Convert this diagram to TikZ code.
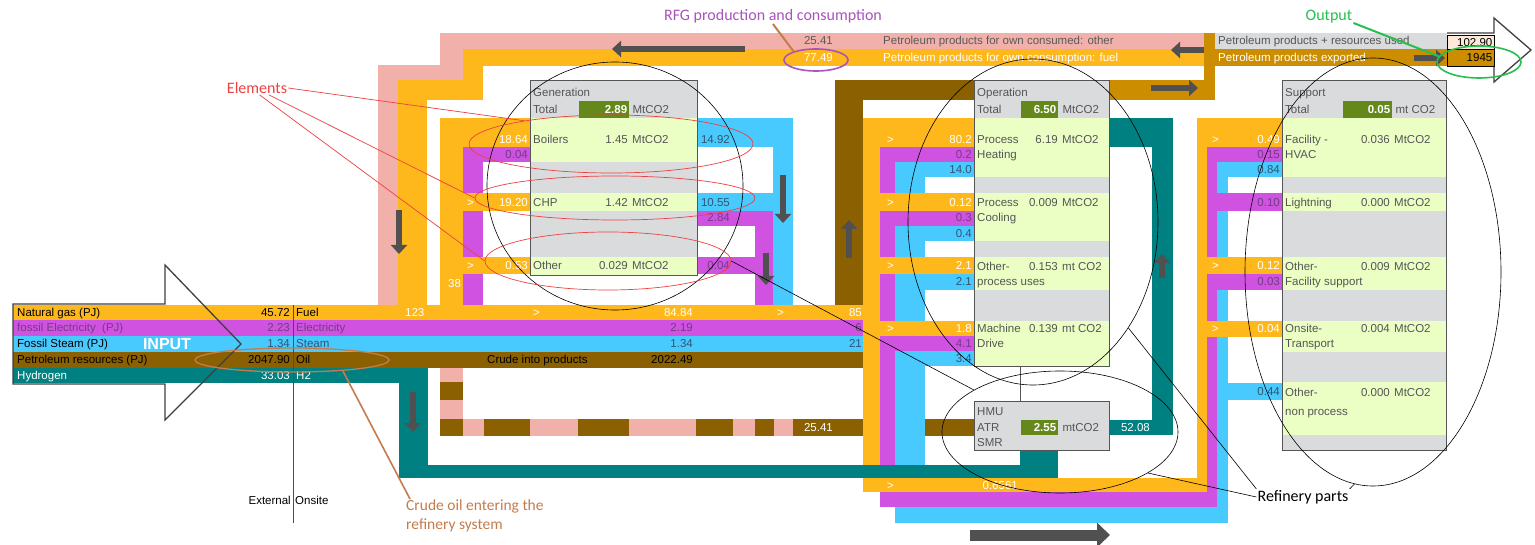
\documentclass[tikz,border=0pt]{standalone}
\usepackage{fontspec}
\setmainfont{Liberation Sans}
\newfontfamily\annfont{Carlito}
\usepackage{tikz}
\usetikzlibrary{positioning, shapes.geometric, arrows.meta}

\definecolor{fuelc}{RGB}{255,184,28}
\definecolor{elecc}{RGB}{208,82,224}
\definecolor{steamc}{RGB}{72,202,255}
\definecolor{oilc}{RGB}{138,96,0}
\definecolor{htwoc}{RGB}{0,128,128}
\definecolor{rfgc}{RGB}{242,176,170}
\definecolor{expc}{RGB}{204,142,0}
\definecolor{boxgray}{RGB}{218,219,221}
\definecolor{rowgreen}{RGB}{235,255,196}
\definecolor{totgreen}{RGB}{100,136,26}
\definecolor{arrowgray}{RGB}{80,80,80}
\definecolor{boxtext}{RGB}{85,85,85}
\definecolor{electext}{RGB}{112,62,132}
\definecolor{steamtext}{RGB}{46,86,116}
\definecolor{pinktext}{RGB}{90,90,90}
\definecolor{elemred}{RGB}{238,64,64}
\definecolor{rfgpurple}{RGB}{168,84,188}
\definecolor{outgreen}{RGB}{40,190,80}
\definecolor{crudebrown}{RGB}{196,124,76}
\definecolor{peach}{RGB}{253,233,217}

\newcommand\flowfont{\fontsize{11.5}{13}\selectfont}

\begin{document}
\begin{tikzpicture}[x=1pt,y=-1pt]
    \tikzstyle{lbl} = [inner sep=0pt, text height=8.5pt, text depth=1pt, font=\flowfont]
    \tikzstyle{keyl} = [lbl, anchor=west]
    \tikzstyle{numr} = [lbl, anchor=east]
    \tikzstyle{panel} = [fill=boxgray, inner sep=0pt, outer sep=0pt, anchor=north west]
    \tikzstyle{totbox} = [fill=totgreen, text=white, font=\flowfont\bfseries, inner xsep=2pt, inner ysep=0pt, text height=8.5pt, text depth=1pt, minimum height=17pt, align=right, anchor=north west]
    \tikzstyle{cellbox} = [draw=black, line width=0.6pt, inner xsep=2pt, inner ysep=0pt, align=right, text height=8.5pt, text depth=1pt, font=\flowfont, anchor=north west]
    \tikzstyle{outline} = [draw=black!75, line width=1.3pt, line join=miter]
    \tikzstyle{flowarr} = [draw=arrowgray, line width=6pt, -{Triangle[length=9pt,width=16pt]}]
    \tikzstyle{bigarr} = [draw=arrowgray, line width=11pt, -{Triangle[length=13pt,width=24pt]}]
    \tikzstyle{ring} = [draw=black, ellipse, inner sep=0pt, line width=0.6pt]
    \tikzstyle{redring} = [draw=elemred, ellipse, inner sep=0pt, line width=0.7pt]
    \tikzstyle{annlbl} = [font=\annfont\fontsize{16}{19}\selectfont, inner sep=1pt]

    \useasboundingbox (0,0) rectangle (1535,545);
    \fill[white] (0,0) rectangle (1535,545);

    % RFG and fuel loops at the top
    \fill[rfgc] (378,65) rectangle (398,305);
    \fill[rfgc] (378,65) rectangle (463,80);
    \fill[rfgc] (440,33) rectangle (463,80);
    \fill[rfgc] (440,33) rectangle (1204,49);
    \fill[fuelc] (398,80) rectangle (427,305);
    \fill[fuelc] (398,80) rectangle (483,100);
    \fill[fuelc] (463,49) rectangle (483,100);
    \fill[fuelc] (463,49) rectangle (1204,66);
    % exported products
    \fill[expc] (1109,80) rectangle (1215,100);
    \fill[expc] (1204,33) rectangle (1215,100);
    \fill[expc] (1215,49) rectangle (1447,66);
    \fill[boxgray] (1215,33) rectangle (1447,49);
    % crude loop
    \fill[oilc] (835,80) rectangle (863,368);
    \fill[oilc] (835,80) rectangle (974,100);

    % generation feeds
    \fill[fuelc] (440,118) rectangle (463,305);
    \fill[elecc] (463,147) rectangle (483,320);
    \fill[fuelc] (440,118) rectangle (530,147);
    \fill[elecc] (463,147) rectangle (530,162);
    \fill[fuelc] (440,193) rectangle (530,211);
    \fill[fuelc] (440,257) rectangle (530,274);
    \fill[steamc] (773,118) rectangle (793,336);
    \fill[elecc] (755,211) rectangle (773,320);
    \fill[steamc] (697,118) rectangle (793,147);
    \fill[steamc] (697,193) rectangle (793,211);
    \fill[elecc] (697,211) rectangle (773,226);
    \fill[elecc] (697,257) rectangle (773,274);

    % RFG back line
    \foreach \ya/\yb/\c in {368/382/rfgc, 382/400/oilc, 400/419/rfgc}
        \fill[\c] (440,\ya) rectangle (463,\yb);
    \foreach \xa/\xb/\c in {440/463/oilc, 463/484/rfgc, 484/530/oilc, 530/578/rfgc, 578/629/oilc, 629/696/rfgc, 696/733/oilc, 733/755/rfgc, 755/774/oilc, 774/793/rfgc, 793/974/oilc}
        \fill[\c] (\xa,419) rectangle (\xb,436);

    % operation feeds
    \fill[fuelc] (863,118) rectangle (880,492);
    \fill[elecc] (880,147) rectangle (895,507);
    \fill[steamc] (895,162) rectangle (925,523);
    \foreach \ya/\yb in {118/147, 193/211, 257/274, 321/336}
        \fill[fuelc] (863,\ya) rectangle (974,\yb);
    \foreach \ya/\yb in {147/162, 211/226, 336/351}
        \fill[elecc] (880,\ya) rectangle (974,\yb);
    \foreach \ya/\yb in {162/177, 226/241, 274/290, 351/366}
        \fill[steamc] (895,\ya) rectangle (974,\yb);
    \fill[fuelc] (863,478) rectangle (1207,492);
    \fill[elecc] (880,492) rectangle (1217,507);
    \fill[steamc] (895,507) rectangle (1228,523);

    % support feeds
    \fill[fuelc] (1197,118) rectangle (1207,492);
    \fill[elecc] (1207,147) rectangle (1217,507);
    \fill[steamc] (1217,162) rectangle (1228,523);
    \foreach \ya/\yb in {118/147, 257/274, 321/337}
        \fill[fuelc] (1197,\ya) rectangle (1282,\yb);
    \foreach \ya/\yb in {147/162, 193/211, 274/290}
        \fill[elecc] (1207,\ya) rectangle (1282,\yb);
    \foreach \ya/\yb in {162/177, 383/400}
        \fill[steamc] (1217,\ya) rectangle (1282,\yb);

    % hydrogen
    \fill[htwoc] (399,368) rectangle (428,478);
    \fill[htwoc] (399,465) rectangle (1058,478);
    \fill[htwoc] (1020,450) rectangle (1058,478);
    \fill[htwoc] (1109,420) rectangle (1173,435);
    \fill[htwoc] (1152,118) rectangle (1173,435);
    \fill[htwoc] (1109,118) rectangle (1173,147);

    % input rows
    \fill[fuelc] (13,305) rectangle (863,320);
    \fill[elecc] (13,320) rectangle (863,336);
    \fill[steamc] (13,336) rectangle (863,352);
    \fill[oilc] (13,352) rectangle (863,368);
    \fill[htwoc] (13,368) rectangle (428,383);

    % panels
    \node[panel, minimum width=167pt, minimum height=195pt] (gen) at (530,80) {};
    \node[panel, minimum width=135pt, minimum height=286pt] (oper) at (974,80) {};
    \node[panel, minimum width=164pt, minimum height=370pt] (supp) at (1282,80) {};
    \node[panel, minimum width=135pt, minimum height=49pt] (hmu) at (974,401) {};
    \foreach \ya/\yb in {118/162, 193/211, 257/275}
        \fill[rowgreen] (530,\ya) rectangle (697,\yb);
    \foreach \ya/\yb in {118/177, 193/241, 257/290, 321/366}
        \fill[rowgreen] (974,\ya) rectangle (1109,\yb);
    \foreach \ya/\yb in {118/177, 193/211, 257/290, 321/352, 382/435}
        \fill[rowgreen] (1282,\ya) rectangle (1446,\yb);
    \foreach \p in {gen, oper, supp, hmu}
        \draw[boxtext, line width=0.9pt] (\p.north west) rectangle (\p.south east);
    \coordinate (hmulink) at (1020,401);
    \draw[boxtext, line width=0.8pt] (hmulink) -- (hmulink |- oper.south);

    % input and output arrows
    \draw[outline] (165,304) -- (13,304) -- (13,384) -- (165,384) -- (165,420) -- (241,344) -- (165,265) -- cycle;
    \draw[outline] (1447,33) -- (1494,33) -- (1494,18) -- (1531,50) -- (1494,82) -- (1494,66) -- (1447,66);
    \node[cellbox, fill=peach, text width=43pt, minimum height=14pt] (usedv) at (1447,35) {102.90};
    \node[cellbox, fill=expc, text width=43pt, minimum height=17pt] (expv) at (1447,49) {1945};
    \coordinate (divtop) at (293,305);
    \coordinate (divbot) at (293,523);
    \draw[black!70, line width=0.8pt] (divtop) -- (divbot);
    \node[numr] (extlbl) at (291,501) {External};
    \node[keyl] (onslbl) at (295,501) {Onsite};

    % input rows text
    \node[keyl] (ngas) at (17,312.5) {Natural gas (PJ)};
    \node[numr] (ngasv) at (290,312.5) {45.72};
    \node[keyl] (fuelk) at (296,312.5) {Fuel};
    \node[keyl, text=electext] (elin) at (17,328) {fossil Electricity\ \ (PJ)};
    \node[numr, text=electext] (elinv) at (290,328) {2.23};
    \node[keyl, text=electext] (elk) at (296,328) {Electricity};
    \node[keyl] (stin) at (17,344) {Fossil Steam (PJ)};
    \node[numr, text=steamtext] (stinv) at (290,344) {1.34};
    \node[keyl, text=steamtext] (stk) at (296,344) {Steam};
    \node[keyl] (oilin) at (17,360) {Petroleum resources (PJ)};
    \node[numr] (oilinv) at (290,360) {2047.90};
    \node[keyl] (oilk) at (296,360) {Oil};
    \node[keyl, text=white] (hin) at (17,375.5) {Hydrogen};
    \node[numr, text=white] (hinv) at (290,375.5) {33.03};
    \node[keyl, text=white] (hk) at (296,375.5) {H2};
    \node[font=\fontsize{16}{18}\selectfont\bfseries, text=white, inner sep=0pt] (inlbl) at (167,344) {INPUT};
    \node[keyl, text=white] (fuelsum) at (405,312.5) {123};
    \node[keyl, text=white] (fgtone) at (533,312.5) {>};
    \node[numr, text=white] (fuelgen) at (693,312.5) {84.84};
    \node[keyl, text=white] (fgttwo) at (777,312.5) {>};
    \node[numr, text=white] (fuelop) at (862,312.5) {85};
    \node[numr, text=electext] (elgen) at (693,328) {2.19};
    \node[numr, text=electext] (elop) at (862,328) {6};
    \node[numr, text=steamtext] (stgen) at (693,344) {1.34};
    \node[numr, text=steamtext] (stop) at (862,344) {21};
    \node[keyl] (crude) at (487,360) {Crude into products};
    \node[numr] (crudev) at (693,360) {2022.49};

    % top rows text
    \node[numr, text=pinktext] (rfgo) at (833,41) {25.41};
    \node[keyl, text=pinktext] (rfgok) at (883,41) {Petroleum products for own consumed: other};
    \node[numr, text=white] (rfgf) at (833,57.5) {77.49};
    \node[keyl, text=white] (rfgfk) at (883,57.5) {Petroleum products for own consumption: fuel};
    \node[keyl, text=boxtext] (usedk) at (1218,41) {Petroleum products + resources used};
    \node[keyl, text=white] (expk) at (1218,57.5) {Petroleum products exported};

    % generation
    \node[keyl, text=boxtext] (genk) at (533,93) {Generation};
    \node[keyl, text=boxtext] (gentotk) at (533,110) {Total};
    \node[totbox, text width=46pt] (gentot) at (579,101) {2.89};
    \node[keyl, text=boxtext, right=3pt of gentot] (gentotu) {MtCO2};
    \node[keyl, text=boxtext] (boilk) at (533,140) {Boilers};
    \node[numr, text=boxtext] (boilv) at (628,140) {1.45};
    \node[keyl, text=boxtext] (boilu) at (632,140) {MtCO2};
    \node[keyl, text=boxtext] (chpk) at (533,203) {CHP};
    \node[numr, text=boxtext] (chpv) at (628,203) {1.42};
    \node[keyl, text=boxtext] (chpu) at (632,203) {MtCO2};
    \node[keyl, text=boxtext] (gothk) at (533,266) {Other};
    \node[numr, text=boxtext] (gothv) at (628,266) {0.029};
    \node[keyl, text=boxtext] (gothu) at (632,266) {MtCO2};
    \node[numr, text=white] (boilf) at (528,140) {18.64};
    \node[numr, text=electext] (boile) at (528,155) {0.04};
    \node[keyl, text=white] (chpgt) at (467,203) {>};
    \node[numr, text=white] (chpf) at (528,203) {19.20};
    \node[keyl, text=white] (othgt) at (467,266) {>};
    \node[numr, text=white] (othf) at (528,266) {0.53};
    \node[keyl, text=white] (genfuel) at (448,284) {38};
    \node[numr, text=steamtext] (boils) at (730,140) {14.92};
    \node[numr, text=steamtext] (chps) at (730,203) {10.55};
    \node[numr, text=electext] (chpe) at (730,218) {2.84};
    \node[numr, text=electext] (othe) at (730,266) {0.04};

    % operation
    \node[keyl, text=boxtext] (opk) at (977,93) {Operation};
    \node[keyl, text=boxtext] (optotk) at (977,110) {Total};
    \node[totbox, text width=33pt] (optot) at (1021,101) {6.50};
    \node[keyl, text=boxtext, right=4pt of optot] (optotu) {MtCO2};
    \node[keyl, text=boxtext] (heatk) at (977,140) {Process};
    \node[keyl, text=boxtext] (heatktwo) at (977,155) {Heating};
    \node[numr, text=boxtext] (heatv) at (1058,140) {6.19};
    \node[keyl, text=boxtext] (heatu) at (1062,140) {MtCO2};
    \node[keyl, text=boxtext] (coolk) at (977,203) {Process};
    \node[keyl, text=boxtext] (coolktwo) at (977,218) {Cooling};
    \node[numr, text=boxtext] (coolv) at (1058,203) {0.009};
    \node[keyl, text=boxtext] (coolu) at (1062,203) {MtCO2};
    \node[keyl, text=boxtext] (oprk) at (977,267) {Other-};
    \node[keyl, text=boxtext] (oprktwo) at (977,282) {process uses};
    \node[numr, text=boxtext] (oprv) at (1058,267) {0.153};
    \node[keyl, text=boxtext] (opru) at (1062,267) {mt CO2};
    \node[keyl, text=boxtext] (machk) at (977,329) {Machine};
    \node[keyl, text=boxtext] (machktwo) at (977,344) {Drive};
    \node[numr, text=boxtext] (machv) at (1058,329) {0.139};
    \node[keyl, text=boxtext] (machu) at (1062,329) {mt CO2};
    \node[keyl, text=white] (heatgt) at (887,140) {>};
    \node[numr, text=white] (heatf) at (972,140) {80.2};
    \node[numr, text=electext] (heate) at (972,155) {0.2};
    \node[numr, text=steamtext] (heats) at (972,170) {14.0};
    \node[keyl, text=white] (coolgt) at (887,203) {>};
    \node[numr, text=white] (coolf) at (972,203) {0.12};
    \node[numr, text=electext] (coole) at (972,218) {0.3};
    \node[numr, text=steamtext] (cools) at (972,234) {0.4};
    \node[keyl, text=white] (oprgt) at (887,266) {>};
    \node[numr, text=white] (oprf) at (972,266) {2.1};
    \node[numr, text=steamtext] (oprs) at (972,282) {2.1};
    \node[keyl, text=white] (machgt) at (887,329) {>};
    \node[numr, text=white] (machf) at (972,329) {1.8};
    \node[numr, text=electext] (mache) at (972,344) {4.1};
    \node[numr, text=steamtext] (machs) at (972,359) {3.4};
    \node[keyl, text=white] (botgt) at (887,485.5) {>};
    \node[numr, text=white] (botf) at (1018,485.5) {0.6561};

    % hmu
    \node[keyl, text=boxtext] (hmuk) at (977,412) {HMU};
    \node[keyl, text=boxtext] (atrk) at (977,427.5) {ATR};
    \node[keyl, text=boxtext] (smrk) at (977,443) {SMR};
    \node[totbox, text width=33pt, minimum height=15pt] (hmutot) at (1021,420) {2.55};
    \node[keyl, text=boxtext, right=4pt of hmutot] (hmutotu) {mtCO2};
    \node[numr, text=white] (rfgback) at (833,428) {25.41};
    \node[numr, text=white] (htwoback) at (1150,428) {52.08};

    % support
    \node[keyl, text=boxtext] (supk) at (1285,93) {Support};
    \node[keyl, text=boxtext] (suptotk) at (1285,110) {Total};
    \node[totbox, text width=45pt] (suptot) at (1343,101) {0.05};
    \node[keyl, text=boxtext, right=3pt of suptot] (suptotu) {mt CO2};
    \node[keyl, text=boxtext] (hvack) at (1285,140) {Facility -};
    \node[keyl, text=boxtext] (hvacktwo) at (1285,155) {HVAC};
    \node[numr, text=boxtext] (hvacv) at (1390,140) {0.036};
    \node[keyl, text=boxtext] (hvacu) at (1394,140) {MtCO2};
    \node[keyl, text=boxtext] (lightk) at (1285,203) {Lightning};
    \node[numr, text=boxtext] (lightv) at (1390,203) {0.000};
    \node[keyl, text=boxtext] (lightu) at (1394,203) {MtCO2};
    \node[keyl, text=boxtext] (ofsk) at (1285,267) {Other-};
    \node[keyl, text=boxtext] (ofsktwo) at (1285,282) {Facility support};
    \node[numr, text=boxtext] (ofsv) at (1390,267) {0.009};
    \node[keyl, text=boxtext] (ofsu) at (1394,267) {MtCO2};
    \node[keyl, text=boxtext] (trk) at (1285,329) {Onsite-};
    \node[keyl, text=boxtext] (trktwo) at (1285,344) {Transport};
    \node[numr, text=boxtext] (trv) at (1390,329) {0.004};
    \node[keyl, text=boxtext] (tru) at (1394,329) {MtCO2};
    \node[keyl, text=boxtext] (onpk) at (1285,393) {Other-};
    \node[keyl, text=boxtext] (onpktwo) at (1285,412) {non process};
    \node[numr, text=boxtext] (onpv) at (1390,393) {0.000};
    \node[keyl, text=boxtext] (onpu) at (1394,393) {MtCO2};
    \node[keyl, text=white] (hvacgt) at (1212,140) {>};
    \node[numr, text=white] (hvacf) at (1280,140) {0.49};
    \node[numr, text=electext] (hvace) at (1280,155) {0.15};
    \node[numr, text=steamtext] (hvacs) at (1280,170) {0.84};
    \node[numr, text=electext] (lighte) at (1280,203) {0.10};
    \node[keyl, text=white] (ofsgt) at (1212,266) {>};
    \node[numr, text=white] (ofsf) at (1280,266) {0.12};
    \node[numr, text=electext] (ofse) at (1280,282) {0.03};
    \node[keyl, text=white] (trgt) at (1212,329) {>};
    \node[numr, text=white] (trf) at (1280,329) {0.04};
    \node[numr, text=steamtext] (onps) at (1280,392) {0.44};

    % flow direction arrows
    \foreach \xa/\ya/\xb/\yb in {745/49/612/49, 1204/50/1171/50, 1151/88/1198/88, 1414/58/1445/58, 399/210/399/254, 413/392/413/432, 783/175/783/223, 766/253/766/285, 849/258/849/220, 1162/278/1162/254}
        \draw[flowarr] (\xa,\ya) -- (\xb,\yb);
    \draw[bigarr] (970,535) -- (1110,535);

    % annotation rings
    \node[ring, minimum width=256pt, minimum height=248pt] (genring) at (615,186) {};
    \node[ring, minimum width=250pt, minimum height=326pt] (opring) at (1033,222) {};
    \node[ring, minimum width=256pt, minimum height=428pt] (supring) at (1373,272) {};
    \node[ring, minimum width=236pt, minimum height=122pt] (hmuring) at (1060,432) {};
    \node[redring, minimum width=284pt, minimum height=58pt] (boilring) at (611,144) {};
    \node[redring, minimum width=280pt, minimum height=44pt] (chpring) at (615,198) {};
    \node[redring, minimum width=246pt, minimum height=58pt] (othring) at (608,261) {};
    \node[ring, draw=rfgpurple, line width=1.6pt, minimum width=64pt, minimum height=22pt] (rfgring) at (816,60) {};
    \node[ring, draw=outgreen, line width=1.6pt, minimum width=84pt, minimum height=32pt] (outring) at (1479,62) {};
    \node[ring, draw=crudebrown, line width=1.3pt, minimum width=194pt, minimum height=24pt] (oilring) at (292,360) {};

    % annotation labels
    \node[annlbl, text=elemred] (elements) at (257,88) {Elements};
    \node[annlbl, text=rfgpurple] (rfglbl) at (773,16) {RFG production and consumption};
    \node[annlbl, text=outgreen] (outlbl) at (1329,17) {Output};
    \node[annlbl, text=crudebrown, align=left, anchor=north west, font=\annfont\fontsize{15.5}{19}\selectfont] (crudelbl) at (405,499) {Crude oil entering the\\refinery system};
    \node[annlbl, text=black] (partslbl) at (1303,497) {Refinery parts};

    \draw[elemred, line width=0.7pt] (elements.east) -- (boilring.165);
    \draw[elemred, line width=0.7pt] (elements.-30) -- (chpring.west);
    \draw[elemred, line width=0.7pt] (elements.-70) -- (othring.west);
    \draw[crudebrown, line width=2pt] (rfglbl.south) -- (rfgring.159);
    \draw[outgreen, line width=2pt] ([yshift=-6pt]outlbl.east) -- (outring.172);
    \draw[crudebrown, line width=1.6pt] (oilring.-12) -- ([xshift=5pt]crudelbl.north west);
    \draw[black, line width=0.6pt] (othring.east) -- (hmuring.154);
    \draw[black, line width=0.6pt] (partslbl.west) -- (hmuring.-25);
    \draw[black, line width=0.6pt] (partslbl.north west) -- (opring.-48);
    \draw[black, line width=0.6pt] (partslbl.north east) -- (supring.-95);
\end{tikzpicture}
\end{document}
